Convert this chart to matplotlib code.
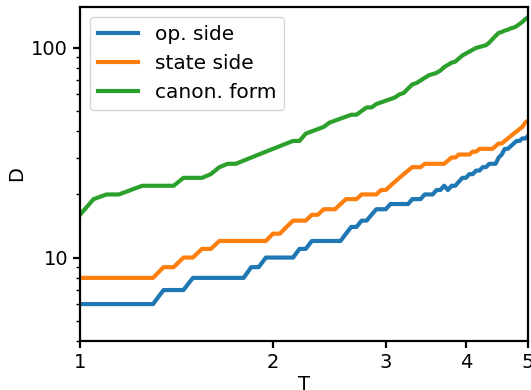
import matplotlib
matplotlib.use("Agg")
import matplotlib.pyplot as plt
from matplotlib.ticker import FixedLocator, FixedFormatter, FuncFormatter, NullLocator

T = [1.00, 1.05, 1.10, 1.15, 1.20, 1.25, 1.30, 1.35, 1.40, 1.45,
     1.50, 1.55, 1.60, 1.65, 1.70, 1.75, 1.80, 1.85, 1.90, 1.95,
     2.00, 2.05, 2.10, 2.15, 2.20, 2.25, 2.30, 2.35, 2.40, 2.45,
     2.50, 2.55, 2.60, 2.65, 2.70, 2.75, 2.80, 2.85, 2.90, 2.95,
     3.00, 3.05, 3.10, 3.15, 3.20, 3.25, 3.30, 3.35, 3.40, 3.45,
     3.50, 3.55, 3.60, 3.65, 3.70, 3.75, 3.80, 3.85, 3.90, 3.95,
     4.00, 4.05, 4.10, 4.15, 4.20, 4.25, 4.30, 4.35, 4.40, 4.45,
     4.50, 4.55, 4.60, 4.65, 4.70, 4.75, 4.80, 4.85, 4.90, 4.95,
     5.00]

op_side = [6, 6, 6, 6, 6, 6, 6, 7, 7, 7,
           8, 8, 8, 8, 8, 8, 8, 9, 9, 10,
           10, 10, 10, 10, 11, 11, 12, 12, 12, 12,
           12, 12, 13, 14, 14, 15, 15, 16, 17, 17,
           17, 18, 18, 18, 18, 18, 19, 19, 19, 20,
           20, 20, 21, 21, 22, 21, 22, 22, 23, 24,
           24, 25, 25, 26, 26, 27, 27, 28, 28, 28,
           30, 31, 33, 33, 34, 35, 36, 36, 37, 37,
           38]

state_side = [8, 8, 8, 8, 8, 8, 8, 9, 9, 10,
              10, 11, 11, 12, 12, 12, 12, 12, 12, 12,
              13, 13, 14, 15, 15, 15, 16, 16, 17, 17,
              17, 18, 19, 19, 19, 20, 20, 20, 20, 21,
              21, 22, 23, 24, 25, 26, 27, 27, 27, 28,
              28, 28, 28, 28, 28, 29, 30, 30, 31, 31,
              31, 31, 32, 32, 33, 33, 33, 33, 33, 34,
              35, 35, 36, 37, 38, 39, 40, 41, 42, 44,
              45]

canon_form = [16, 19, 20, 20, 21, 22, 22, 22, 22, 24,
              24, 24, 25, 27, 28, 28, 29, 30, 31, 32,
              33, 34, 35, 36, 36, 39, 40, 41, 42, 44,
              45, 46, 47, 48, 48, 50, 52, 52, 54, 55,
              56, 57, 58, 60, 61, 64, 67, 68, 70, 72,
              74, 75, 76, 78, 81, 83, 85, 86, 89, 92,
              94, 96, 98, 100, 101, 102, 103, 106, 110, 114,
              118, 119, 121, 122, 124, 125, 127, 130, 133, 137,
              140]

labels = ["op. side", "state side", "canon. form"]
colors = ["#1f77b4", "#ff7f0e", "#2ca02c"]
x_ticks = [1, 2, 3, 4, 5]
x_ticklabels = ["1", "2", "3", "4", "5"]

plt.rcParams['font.family'] = ['DejaVu Sans']
fig = plt.figure(figsize=(5.31, 3.90), dpi=100)
ax = fig.add_axes([80/531, 49/390, 448/531, 334/390])

for ys, lab, c in zip([op_side, state_side, canon_form], labels, colors):
    ax.plot(T, ys, color=c, lw=3, label=lab)

ax.set_xscale('log')
ax.set_yscale('log')
ax.set_xlim(1, 5)
ax.set_ylim(4, 156.7)
ax.xaxis.set_major_locator(FixedLocator(x_ticks))
ax.xaxis.set_major_formatter(FixedFormatter(x_ticklabels))
ax.xaxis.set_minor_locator(NullLocator())
ax.yaxis.set_major_formatter(FuncFormatter(lambda v, p: "%d" % v))

for s in ax.spines.values():
    s.set_linewidth(1.6)
ax.tick_params(which='major', labelsize=14, width=1.6, length=5)
ax.tick_params(which='minor', width=1.0, length=3)
ax.set_xlabel("T", fontsize=14, labelpad=2)
ax.set_ylabel("D", fontsize=14)
ax.legend(loc='upper left', fontsize=14.5)

fig.savefig("out.png", dpi=100)
